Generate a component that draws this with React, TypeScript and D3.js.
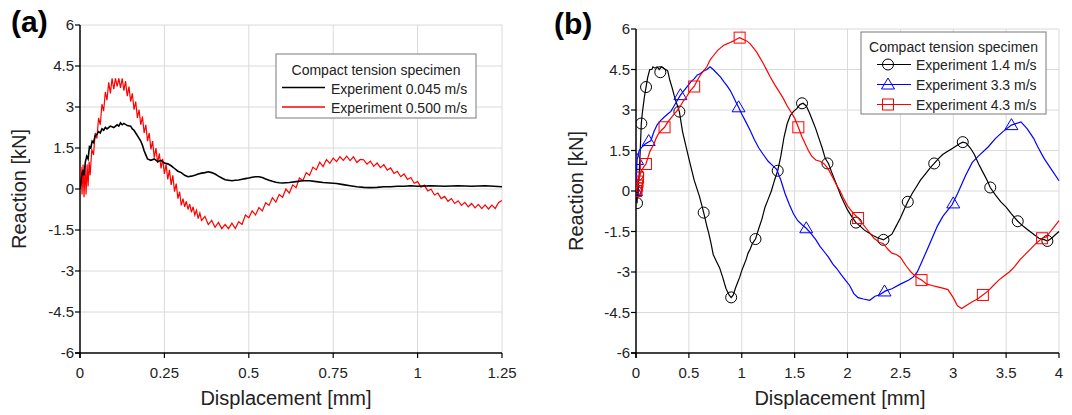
import * as d3 from "d3";

type Pt = [number, number];

// axis ticks
const yTicks = [-6, -4.5, -3, -1.5, 0, 1.5, 3, 4.5, 6];
const aXTicks = [0, 0.25, 0.5, 0.75, 1, 1.25];
const bXTicks = [0, 0.5, 1, 1.5, 2, 2.5, 3, 3.5, 4];

const legendTitle = "Compact tension specimen";
const aNames = ["Experiment 0.045 m/s", "Experiment 0.500 m/s"];
const bNames = ["Experiment 1.4 m/s", "Experiment 3.3 m/s", "Experiment 4.3 m/s"];

// (a) 0.045 m/s
const aSlow: Pt[] = [
  [0, 0], [0.004, 0.4], [0.008, 0.7], [0.012, 0.5], [0.016, 1.0], [0.02, 1.2], [0.024, 1.1], [0.028, 1.55],
  [0.032, 1.5], [0.036, 1.75], [0.04, 1.7], [0.045, 1.95], [0.05, 2.0], [0.055, 2.1], [0.06, 2.05], [0.065, 2.2],
  [0.07, 2.15], [0.075, 2.25], [0.08, 2.2], [0.09, 2.3], [0.1, 2.25], [0.11, 2.35], [0.115, 2.3], [0.12, 2.42],
  [0.125, 2.35], [0.13, 2.4], [0.14, 2.32], [0.15, 2.3], [0.155, 2.2], [0.16, 2.15], [0.165, 2.05], [0.17, 1.95],
  [0.175, 1.85], [0.18, 1.75], [0.185, 1.6], [0.19, 1.4], [0.195, 1.25], [0.2, 1.1], [0.21, 1.05], [0.22, 1.1],
  [0.23, 1.0], [0.24, 1.05], [0.25, 0.95], [0.26, 0.92], [0.27, 0.85], [0.28, 0.75], [0.29, 0.65], [0.3, 0.6],
  [0.31, 0.5], [0.32, 0.45], [0.33, 0.47], [0.34, 0.5], [0.35, 0.55], [0.36, 0.58], [0.37, 0.6], [0.38, 0.63],
  [0.39, 0.6], [0.4, 0.55], [0.41, 0.47], [0.42, 0.4], [0.43, 0.34], [0.44, 0.32], [0.45, 0.3], [0.46, 0.32],
  [0.47, 0.33], [0.48, 0.36], [0.49, 0.38], [0.5, 0.4], [0.51, 0.43], [0.52, 0.45], [0.53, 0.45], [0.54, 0.42],
  [0.55, 0.37], [0.56, 0.32], [0.57, 0.28], [0.58, 0.25], [0.59, 0.23], [0.6, 0.22], [0.62, 0.24], [0.64, 0.27],
  [0.66, 0.3], [0.68, 0.3], [0.7, 0.27], [0.72, 0.24], [0.74, 0.22], [0.76, 0.2], [0.78, 0.16], [0.8, 0.12],
  [0.82, 0.08], [0.84, 0.06], [0.86, 0.05], [0.88, 0.06], [0.9, 0.08], [0.92, 0.08], [0.94, 0.1], [0.96, 0.1],
  [0.98, 0.12], [1.0, 0.1], [1.04, 0.12], [1.08, 0.1], [1.12, 0.12], [1.16, 0.1], [1.2, 0.12], [1.25, 0.08],
];

// (a) 0.500 m/s, noisy trace
const aFast: Pt[] = [
  [0, 0], [0.003, 0.8], [0.006, -0.2], [0.009, 0.9], [0.012, -0.3], [0.015, 0.85], [0.018, -0.2], [0.021, 0.9],
  [0.024, 0.1], [0.027, 1.0], [0.03, 0.5], [0.035, 1.45], [0.04, 1.25], [0.045, 2.05], [0.05, 1.85], [0.055, 2.6],
  [0.06, 2.35], [0.065, 3.1], [0.07, 2.85], [0.075, 3.55], [0.08, 3.25], [0.085, 3.9], [0.09, 3.5], [0.095, 4.05],
  [0.1, 3.65], [0.105, 4.05], [0.11, 3.75], [0.115, 4.05], [0.12, 3.7], [0.125, 4.05], [0.13, 3.6], [0.135, 3.95],
  [0.14, 3.4], [0.145, 3.75], [0.15, 3.2], [0.155, 3.5], [0.16, 2.9], [0.165, 3.2], [0.17, 2.6], [0.175, 2.9],
  [0.18, 2.35], [0.185, 2.65], [0.19, 2.05], [0.195, 2.35], [0.2, 1.75], [0.205, 2.05], [0.21, 1.45], [0.215, 1.75],
  [0.22, 1.15], [0.225, 1.5], [0.23, 0.95], [0.235, 1.3], [0.24, 0.75], [0.245, 1.1], [0.25, 0.55], [0.255, 0.9],
  [0.26, 0.35], [0.265, 0.7], [0.27, 0.15], [0.275, 0.5], [0.28, -0.1], [0.285, 0.2], [0.29, -0.35], [0.295, -0.1],
  [0.3, -0.6], [0.305, -0.35], [0.31, -0.65], [0.315, -0.45], [0.32, -0.75], [0.325, -0.55], [0.33, -0.85],
  [0.335, -0.65], [0.34, -0.95], [0.345, -0.78], [0.35, -1.08], [0.355, -0.88], [0.36, -1.15], [0.37, -1.0],
  [0.38, -1.3], [0.39, -1.15], [0.4, -1.4], [0.41, -1.22], [0.42, -1.45], [0.43, -1.3], [0.44, -1.45], [0.45, -1.25],
  [0.46, -1.45], [0.47, -1.2], [0.48, -1.3], [0.49, -0.95], [0.5, -1.05], [0.51, -0.8], [0.52, -0.95], [0.53, -0.68],
  [0.54, -0.8], [0.55, -0.5], [0.56, -0.6], [0.57, -0.32], [0.58, -0.48], [0.59, -0.2], [0.6, -0.3], [0.61, 0.0],
  [0.62, -0.15], [0.63, 0.15], [0.64, 0.05], [0.65, 0.4], [0.66, 0.3], [0.67, 0.6], [0.68, 0.5], [0.69, 0.8],
  [0.7, 0.7], [0.71, 0.98], [0.72, 0.82], [0.73, 1.08], [0.74, 0.94], [0.75, 1.13], [0.76, 1.0], [0.77, 1.18],
  [0.78, 1.05], [0.79, 1.2], [0.8, 1.04], [0.81, 1.18], [0.82, 0.97], [0.83, 1.08], [0.84, 1.07], [0.85, 0.91],
  [0.86, 1.02], [0.87, 0.83], [0.88, 0.95], [0.89, 0.78], [0.9, 0.89], [0.91, 0.69], [0.92, 0.77], [0.93, 0.57],
  [0.94, 0.65], [0.95, 0.45], [0.96, 0.55], [0.97, 0.35], [0.98, 0.42], [0.99, 0.21], [1.0, 0.27], [1.01, 0.07],
  [1.02, 0.14], [1.03, -0.07], [1.04, -0.01], [1.05, -0.22], [1.06, -0.15], [1.07, -0.35], [1.08, -0.27],
  [1.09, -0.45], [1.1, -0.35], [1.11, -0.53], [1.12, -0.43], [1.13, -0.6], [1.14, -0.49], [1.15, -0.65],
  [1.16, -0.53], [1.17, -0.69], [1.18, -0.56], [1.19, -0.72], [1.2, -0.58], [1.21, -0.73], [1.22, -0.59],
  [1.23, -0.71], [1.24, -0.49], [1.25, -0.42],
];

// (b) 1.4 m/s
const b14: Pt[] = [
  [0, 0], [0.005, -0.3], [0.01, -0.45], [0.015, 0.2], [0.02, -0.2], [0.025, 0.4], [0.03, 0.6], [0.04, 1.5],
  [0.05, 2.5], [0.06, 2.9], [0.07, 3.2], [0.08, 3.5], [0.095, 3.85], [0.11, 4.2], [0.13, 4.5], [0.15, 4.5],
  [0.16, 4.6], [0.18, 4.55], [0.2, 4.6], [0.22, 4.5], [0.24, 4.6], [0.26, 4.55], [0.28, 4.5], [0.3, 4.45],
  [0.32, 4.1], [0.34, 3.85], [0.36, 3.55], [0.38, 3.3], [0.41, 2.94], [0.44, 2.2], [0.47, 1.7], [0.5, 1.2],
  [0.55, 0.4], [0.6, -0.2], [0.64, -0.8], [0.67, -1.3], [0.69, -1.6], [0.71, -1.95], [0.73, -2.35], [0.76, -2.6],
  [0.79, -2.84], [0.82, -3.2], [0.85, -3.6], [0.88, -3.85], [0.9, -3.95], [0.92, -3.85], [0.94, -3.6], [0.96, -3.4],
  [0.98, -3.2], [1.0, -2.95], [1.02, -2.75], [1.04, -2.55], [1.06, -2.3], [1.08, -2.15], [1.1, -1.95],
  [1.13, -1.78], [1.16, -1.4], [1.19, -1.05], [1.22, -0.6], [1.25, -0.3], [1.28, 0.0], [1.31, 0.4], [1.34, 0.75],
  [1.37, 1.3], [1.4, 2.0], [1.43, 2.5], [1.46, 2.8], [1.49, 2.95], [1.52, 3.05], [1.55, 3.2], [1.58, 3.25],
  [1.61, 3.15], [1.64, 2.9], [1.67, 2.6], [1.7, 2.3], [1.73, 1.95], [1.76, 1.6], [1.79, 1.2], [1.82, 1.02],
  [1.85, 0.7], [1.88, 0.4], [1.91, 0.1], [1.94, -0.2], [1.97, -0.45], [2.0, -0.7], [2.04, -0.95], [2.08, -1.17],
  [2.12, -1.3], [2.16, -1.45], [2.2, -1.55], [2.24, -1.65], [2.28, -1.72], [2.34, -1.81], [2.38, -1.7],
  [2.42, -1.6], [2.46, -1.3], [2.5, -1.0], [2.54, -0.65], [2.57, -0.4], [2.61, -0.1], [2.65, 0.15], [2.69, 0.4],
  [2.73, 0.6], [2.78, 0.85], [2.82, 1.02], [2.86, 1.2], [2.9, 1.35], [2.94, 1.45], [2.98, 1.55], [3.02, 1.65],
  [3.06, 1.75], [3.09, 1.81], [3.12, 1.78], [3.16, 1.6], [3.2, 1.35], [3.24, 1.0], [3.28, 0.7], [3.32, 0.4],
  [3.35, 0.13], [3.4, -0.15], [3.45, -0.4], [3.5, -0.6], [3.55, -0.85], [3.61, -1.12], [3.66, -1.3],
  [3.71, -1.45], [3.76, -1.6], [3.81, -1.75], [3.86, -1.8], [3.89, -1.85], [3.93, -1.75], [3.97, -1.6], [4.0, -1.5],
];

// (b) 3.3 m/s
const b33: Pt[] = [
  [0, 0], [0.005, 0.6], [0.01, 1.15], [0.02, 1.3], [0.03, 1.5], [0.05, 1.6], [0.08, 1.72], [0.11, 1.8],
  [0.14, 1.86], [0.17, 2.2], [0.2, 2.45], [0.23, 2.6], [0.27, 2.75], [0.3, 2.85], [0.33, 2.95], [0.36, 3.15],
  [0.39, 3.35], [0.42, 3.55], [0.45, 3.7], [0.48, 3.85], [0.52, 4.05], [0.55, 4.15], [0.58, 4.3], [0.61, 4.35],
  [0.64, 4.45], [0.67, 4.5], [0.7, 4.6], [0.73, 4.5], [0.76, 4.38], [0.8, 4.22], [0.83, 4.05], [0.86, 3.9],
  [0.89, 3.73], [0.92, 3.5], [0.95, 3.25], [0.97, 3.1], [1.0, 2.85], [1.04, 2.55], [1.08, 2.24], [1.12, 1.9],
  [1.16, 1.6], [1.2, 1.37], [1.25, 1.1], [1.29, 0.95], [1.33, 0.8], [1.37, 0.4], [1.41, -0.1], [1.45, -0.5],
  [1.49, -0.85], [1.53, -1.1], [1.57, -1.25], [1.61, -1.38], [1.65, -1.55], [1.7, -1.8], [1.74, -2.05],
  [1.78, -2.25], [1.82, -2.45], [1.86, -2.7], [1.9, -2.88], [1.94, -3.1], [1.98, -3.3], [2.02, -3.5],
  [2.06, -3.8], [2.1, -3.95], [2.15, -4.0], [2.21, -4.05], [2.26, -3.9], [2.3, -3.85], [2.36, -3.7],
  [2.42, -3.62], [2.5, -3.45], [2.58, -3.3], [2.62, -3.19], [2.66, -3.0], [2.7, -2.65], [2.75, -2.2],
  [2.8, -1.75], [2.85, -1.3], [2.9, -0.95], [2.95, -0.7], [2.99, -0.5], [3.04, -0.1], [3.08, 0.25], [3.12, 0.6],
  [3.18, 1.06], [3.24, 1.3], [3.33, 1.63], [3.4, 1.95], [3.47, 2.2], [3.55, 2.44], [3.64, 2.56], [3.7, 2.3],
  [3.76, 1.95], [3.8, 1.63], [3.86, 1.2], [3.92, 0.85], [4.0, 0.38],
];

// (b) 4.3 m/s
const b43: Pt[] = [
  [0, 0], [0.005, 0.1], [0.01, 0.05], [0.015, 0.35], [0.02, 0.5], [0.03, 0.45], [0.045, 0.7], [0.06, 0.8],
  [0.075, 0.9], [0.094, 1.0], [0.11, 1.2], [0.13, 1.45], [0.15, 1.6], [0.17, 1.74], [0.19, 1.95], [0.21, 2.1],
  [0.24, 2.25], [0.27, 2.36], [0.3, 2.55], [0.33, 2.7], [0.36, 2.85], [0.39, 2.98], [0.42, 3.15], [0.45, 3.35],
  [0.48, 3.5], [0.51, 3.7], [0.55, 3.87], [0.58, 4.1], [0.61, 4.3], [0.64, 4.45], [0.67, 4.6], [0.7, 4.85],
  [0.73, 5.0], [0.77, 5.2], [0.8, 5.3], [0.83, 5.4], [0.86, 5.45], [0.89, 5.5], [0.92, 5.55], [0.95, 5.62],
  [0.98, 5.68], [1.02, 5.6], [1.05, 5.55], [1.08, 5.45], [1.11, 5.3], [1.14, 5.15], [1.17, 4.95], [1.2, 4.75],
  [1.24, 4.45], [1.27, 4.22], [1.31, 3.95], [1.35, 3.7], [1.39, 3.45], [1.43, 3.15], [1.47, 2.9], [1.5, 2.7],
  [1.535, 2.36], [1.57, 2.0], [1.6, 1.75], [1.63, 1.5], [1.66, 1.3], [1.7, 1.15], [1.74, 1.1], [1.78, 1.0],
  [1.82, 0.8], [1.86, 0.5], [1.9, 0.2], [1.93, 0.0], [1.96, -0.25], [2.0, -0.55], [2.05, -0.8], [2.1, -1.0],
  [2.15, -1.25], [2.2, -1.5], [2.25, -1.75], [2.3, -1.9], [2.34, -1.95], [2.38, -2.15], [2.42, -2.3],
  [2.46, -2.35], [2.5, -2.45], [2.55, -2.75], [2.6, -3.0], [2.65, -3.19], [2.7, -3.3], [2.75, -3.45], [2.8, -3.5],
  [2.85, -3.55], [2.9, -3.6], [2.95, -3.65], [3.0, -3.95], [3.04, -4.25], [3.08, -4.35], [3.12, -4.25],
  [3.18, -4.1], [3.23, -4.0], [3.28, -3.85], [3.33, -3.7], [3.38, -3.5], [3.43, -3.3], [3.48, -3.15],
  [3.53, -3.0], [3.58, -2.8], [3.63, -2.55], [3.68, -2.35], [3.73, -2.15], [3.78, -1.95], [3.84, -1.75],
  [3.88, -1.7], [3.92, -1.5], [3.96, -1.3], [4.0, -1.1],
];

// marker positions
const b14Marks: Pt[] = [
  [0, 0], [0.01, -0.45], [0.02, 0.6], [0.05, 2.5], [0.095, 3.85], [0.23, 4.4], [0.41, 2.94], [0.64, -0.8],
  [0.9, -3.94], [1.13, -1.78], [1.34, 0.75], [1.57, 3.25], [1.81, 1.02], [2.08, -1.17], [2.34, -1.81],
  [2.57, -0.4], [2.82, 1.02], [3.09, 1.81], [3.35, 0.13], [3.61, -1.12], [3.89, -1.85],
];
const b33Marks: Pt[] = [
  [0, 0], [0.01, 1.15], [0.12, 1.85], [0.42, 3.55], [0.97, 3.1], [1.61, -1.38], [2.35, -3.72], [3.0, -0.46],
  [3.55, 2.44],
];
const b43Marks: Pt[] = [
  [0, 0], [0.005, 0.1], [0.01, 0.2], [0.015, 0.35], [0.02, 0.5], [0.094, 1.0], [0.27, 2.36], [0.55, 3.87],
  [0.98, 5.68], [1.535, 2.36], [2.1, -1.0], [2.7, -3.3], [3.28, -3.85], [3.84, -1.75],
];

const font = "'Liberation Sans', Arial, sans-serif";

function Marker({ kind, x, y, color }: { kind: string; x: number; y: number; color: string }) {
  if (kind === "circle")
    return <circle cx={x} cy={y} r={5.5} fill="none" stroke={color} strokeWidth={1} />;
  if (kind === "triangle")
    return (
      <path
        d={`M${x},${y - 6.5}L${x + 6.5},${y + 4.5}L${x - 6.5},${y + 4.5}Z`}
        fill="none"
        stroke={color}
        strokeWidth={1}
      />
    );
  return <rect x={x - 5.5} y={y - 5.5} width={11} height={11} fill="none" stroke={color} strokeWidth={1} />;
}

function Frame({ x, y, xTicks, titleX, labelX, id }: any) {
  const [x0, x1] = x.range();
  const [y0, y1] = y.range();
  return (
    <g fontFamily={font}>
      <defs>
        <clipPath id={id}>
          <rect x={x0} y={y1 - 2} width={x1 - x0 + 1} height={y0 - y1 + 4} />
        </clipPath>
      </defs>
      {xTicks.slice(1).map((t: number) => (
        <line key={"gx" + t} x1={x(t)} x2={x(t)} y1={y0} y2={y1} stroke="#dadada" strokeWidth={1} />
      ))}
      {yTicks.slice(1).map((t) => (
        <line key={"gy" + t} x1={x0} x2={x1} y1={y(t)} y2={y(t)} stroke="#dadada" strokeWidth={1} />
      ))}
      <line x1={x0} x2={x0} y1={y1} y2={y0 + 5} stroke="#000" strokeWidth={1.5} />
      <line x1={x0 - 5} x2={x1} y1={y0} y2={y0} stroke="#000" strokeWidth={1.5} />
      {yTicks.map((t) => (
        <g key={"ty" + t}>
          <line x1={x0 - 5} x2={x0} y1={y(t)} y2={y(t)} stroke="#000" strokeWidth={1.2} />
          <text x={x0 - 6} y={y(t) + 5} textAnchor="end" fontSize={15} fill="#222">
            {String(t)}
          </text>
        </g>
      ))}
      {xTicks.map((t: number) => (
        <g key={"tx" + t}>
          <line x1={x(t)} x2={x(t)} y1={y0} y2={y0 + 5} stroke="#000" strokeWidth={1.2} />
          <text x={x(t)} y={y0 + 25} textAnchor="middle" fontSize={15} fill="#222">
            {String(t)}
          </text>
        </g>
      ))}
      <text x={titleX} y={405} textAnchor="middle" fontSize={20} fill="#222">
        Displacement [mm]
      </text>
      <text
        transform={`translate(${labelX},${(y0 + y1) / 2}) rotate(-90)`}
        textAnchor="middle"
        fontSize={20}
        fill="#222"
      >
        Reaction [kN]
      </text>
    </g>
  );
}

export default function App() {
  const ax = d3.scaleLinear().domain([0, 1.25]).range([80, 502]);
  const ay = d3.scaleLinear().domain([-6, 6]).range([353, 25]);
  const bx = d3.scaleLinear().domain([0, 4]).range([636, 1059]);
  const by = d3.scaleLinear().domain([-6, 6]).range([353, 29]);

  const aLine = d3.line<Pt>().x((d) => ax(d[0])).y((d) => ay(d[1]));
  const bLine = d3.line<Pt>().x((d) => bx(d[0])).y((d) => by(d[1]));

  const bSeries = [
    { data: b14, marks: b14Marks, color: "#000000", kind: "circle" },
    { data: b33, marks: b33Marks, color: "#0000ff", kind: "triangle" },
    { data: b43, marks: b43Marks, color: "#ff0000", kind: "square" },
  ];

  return (
    <svg width={1072} height={415} style={{ position: "absolute", left: 0, top: 0, background: "#fff" }}>
      <rect width={1072} height={415} fill="#fff" />
      <text x={11} y={32} fontFamily={font} fontWeight="bold" fontSize={30}>(a)</text>
      <text x={554} y={34} fontFamily={font} fontWeight="bold" fontSize={30}>(b)</text>

      <Frame x={ax} y={ay} xTicks={aXTicks} titleX={286} labelX={26} id="clipA" />
      <g clipPath="url(#clipA)" fill="none">
        <path d={aLine(aFast) ?? ""} stroke="#ff0000" strokeWidth={1.2} />
        <path d={aLine(aSlow) ?? ""} stroke="#000000" strokeWidth={1.6} />
      </g>
      <g fontFamily={font}>
        <rect x={276} y={54} width={200} height={64} fill="#fff" stroke="#7a7a7a" strokeWidth={1} />
        <text x={376} y={75} textAnchor="middle" fontSize={14} fill="#222">{legendTitle}</text>
        {aNames.map((n, i) => (
          <g key={n}>
            <line x1={282} x2={325} y1={87.5 + i * 19.5} y2={87.5 + i * 19.5}
              stroke={i === 0 ? "#000" : "#ff0000"} strokeWidth={1.5} />
            <text x={331} y={93.5 + i * 19.5} fontSize={14} fill="#222">{n}</text>
          </g>
        ))}
      </g>

      <Frame x={bx} y={by} xTicks={bXTicks} titleX={840} labelX={583} id="clipB" />
      <g clipPath="url(#clipB)" fill="none">
        {bSeries.map((s) => (
          <g key={s.color}>
            <path d={bLine(s.data) ?? ""} stroke={s.color} strokeWidth={1.2} />
            {s.marks.map((m, i) => (
              <Marker key={i} kind={s.kind} x={bx(m[0])} y={by(m[1])} color={s.color} />
            ))}
          </g>
        ))}
      </g>
      <g fontFamily={font}>
        <rect x={861} y={32} width={185} height={82} fill="#fff" stroke="#7a7a7a" strokeWidth={1} />
        <text x={953.5} y={51.5} textAnchor="middle" fontSize={14} fill="#222">{legendTitle}</text>
        {bNames.map((n, i) => (
          <g key={n}>
            <line x1={877} x2={911} y1={64.5 + i * 20} y2={64.5 + i * 20} stroke={bSeries[i].color} strokeWidth={1.2} />
            <Marker kind={bSeries[i].kind} x={888} y={64.5 + i * 20} color={bSeries[i].color} />
            <text x={916} y={70 + i * 20} fontSize={14} fill="#222">{n}</text>
          </g>
        ))}
      </g>
    </svg>
  );
}
